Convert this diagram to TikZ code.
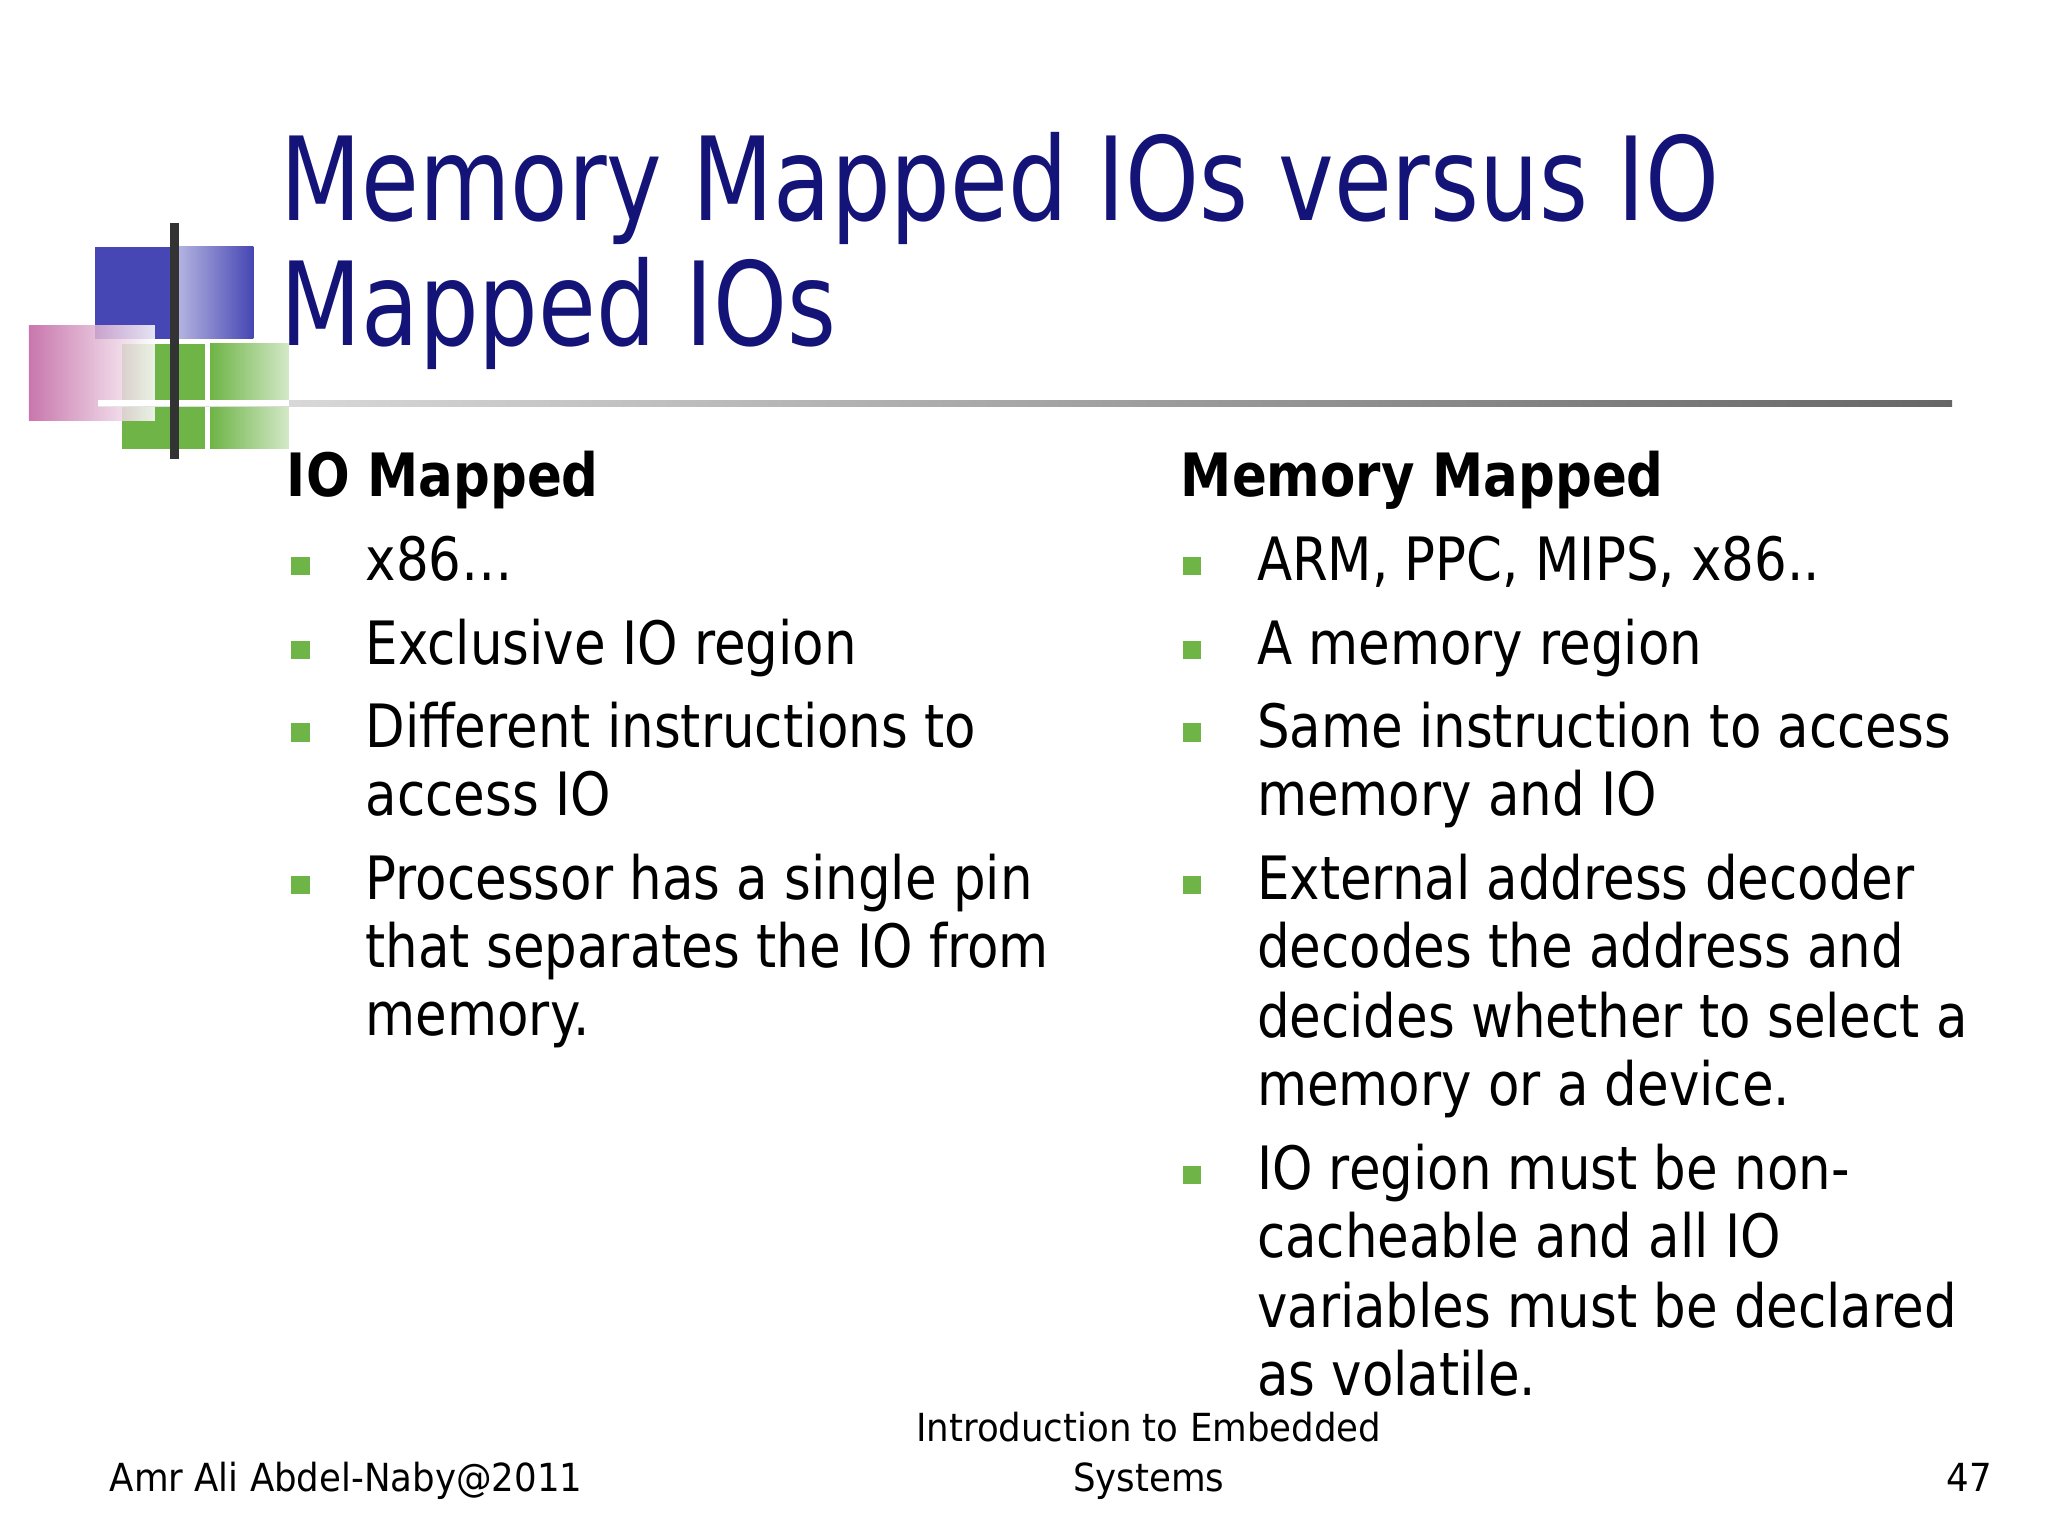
\documentclass[tikz,border=0pt]{standalone}
\usepackage{fontspec}
\setmainfont{DejaVu Sans}
\newfontfamily\ttlf{DejaVu Sans}[FakeStretch=0.81]
\newfontfamily\bodyf{DejaVu Sans}[FakeStretch=0.86]
\newfontfamily\footf{DejaVu Sans}[FakeStretch=0.92]
\definecolor{ttl}{RGB}{20,20,120}
\definecolor{bgreen}{RGB}{110,180,70}
\definecolor{lblue}{RGB}{70,70,180}
\begin{document}
\begin{tikzpicture}[x=0.013128cm,y=-0.013128cm,
  body/.style={anchor=base west,inner sep=0pt,font=\bodyf\fontsize{17}{20}\selectfont},
  ttlstyle/.style={anchor=base west,inner sep=0pt,text=ttl,font=\ttlf\fontsize{33}{38}\selectfont},
  head/.style={anchor=base west,inner sep=0pt,font=\bodyf\fontsize{17}{20}\selectfont\bfseries},
  foot/.style={inner sep=0pt,font=\footf\fontsize{11}{13}\selectfont}]
\fill[white] (0,0) rectangle (1560,1170);
% logo
\fill[lblue] (72,188) rectangle (133,258);
\shade[left color=lblue!40!white,right color=lblue] (135,188) rectangle (193,258);
\fill[bgreen] (93,262) rectangle (156,342);
\shade[left color=bgreen,right color=bgreen!30] (160,262) rectangle (220,342);
\shade[left color=violet!50!pink,right color=white,opacity=0.85] (22,248) rectangle (118,320);
\shade[left color=gray!20,right color=gray!80!black] (75,305) rectangle (1487,310);
\fill[white] (75,305) rectangle (220,309);
\draw[line width=2.5pt,black!80] (133,170) -- (133,350);
% title
\node[ttlstyle] (t1) at (213,168) {Memory Mapped IOs versus IO};
\node[ttlstyle] (t2) at (213,263) {Mapped IOs};
% left column
\node[head] (h1) at (218,378) {IO Mapped};
\foreach \y in {431,495,558,674} \fill[bgreen] (222,\y-7) rectangle (236,\y+7);
\node[body] (l1) at (278,442) {x86…};
\node[body] (l2) at (278,506) {Exclusive IO region};
\node[body] (l3) at (278,569) {Different instructions to};
\node[body] (l3b) at (278,621) {access IO};
\node[body] (l4) at (278,685) {Processor has a single pin};
\node[body] (l4b) at (278,737) {that separates the IO from};
\node[body] (l4c) at (278,789) {memory.};
% right column
\node[head] (h2) at (899,378) {Memory Mapped};
\foreach \y in {431,495,558,674,895} \fill[bgreen] (901,\y-7) rectangle (915,\y+7);
\node[body] (r1) at (957,442) {ARM, PPC, MIPS, x86..};
\node[body] (r2) at (957,506) {A memory region};
\node[body] (r3) at (957,569) {Same instruction to access};
\node[body] (r3b) at (957,621) {memory and IO};
\node[body] (r4) at (957,685) {External address decoder};
\node[body] (r4b) at (957,737) {decodes the address and};
\node[body] (r4c) at (957,790) {decides whether to select a};
\node[body] (r4d) at (957,842) {memory or a device.};
\node[body] (r5) at (957,906) {IO region must be non-};
\node[body] (r5b) at (957,958) {cacheable and all IO};
\node[body] (r5c) at (957,1011) {variables must be declared};
\node[body] (r5d) at (957,1063) {as volatile.};
% footer
\node[foot,anchor=base west] (f1) at (83,1136) {Amr Ali Abdel-Naby@2011};
\node[foot,anchor=base] (f2) at (875,1098) {Introduction to Embedded};
\node[foot,anchor=base] (f3) at (875,1136) {Systems};
\node[foot,anchor=base east] (f4) at (1518,1136) {47};
\end{tikzpicture}
\end{document}
